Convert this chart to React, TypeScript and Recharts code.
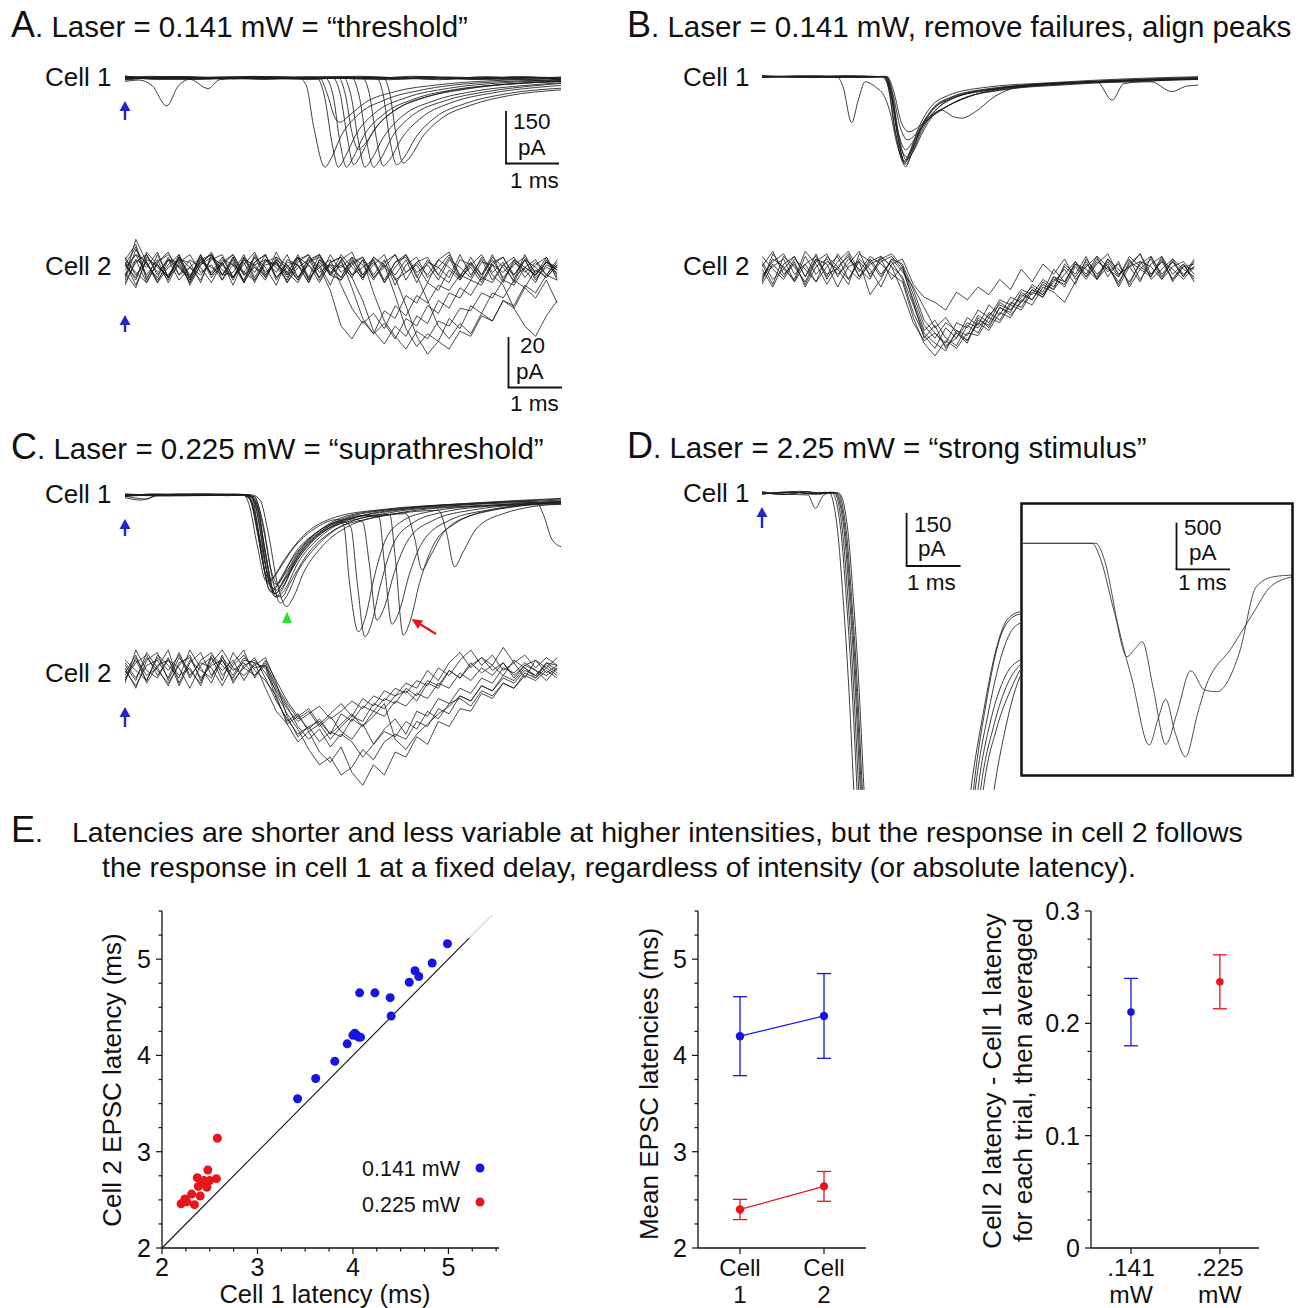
import React from "react";
import { LineChart, Line, XAxis, YAxis, ScatterChart, Scatter, ReferenceLine, ErrorBar } from "recharts";

// Paired-recording figure: raw sweeps (A-D) drawn as hidden-axis Recharts line charts,
// latency summary (E) as three small Recharts plots. Sweep values are in ms / pA.
const FONT = '"Liberation Sans", Arial, Helvetica, sans-serif';
const INK = "#111";
const BLUE = "#1616e0";
const RED = "#e8161a";
const ARROW = "#2424c8";
const TRACE = "#1c1c1c";

// shared time grid (ms) for the noisy cell-2 sweeps
const gridT = [0, 0.2, 0.4, 0.6, 0.8, 1, 1.2, 1.4, 1.6, 1.8, 2, 2.2, 2.4, 2.6, 2.8, 3, 3.2, 3.4, 3.6, 3.8, 4, 4.2, 4.4, 4.6, 4.8, 5, 5.2, 5.4, 5.6, 5.8, 6, 6.2, 6.4, 6.6, 6.8, 7, 7.2, 7.4, 7.6, 7.8, 8];

// A. cell 1 sweeps at 0.141 mW, [ms, pA]
const sweepsA1 = [
  [[0, 3], [0.7, -4], [1.6, 2], [2.6, -3], [3.2, 2], [3.35, -20], [3.5, -150], [3.7, -262], [3.82, -235], [4.0, -170], [4.3, -110], [4.8, -65], [5.5, -35], [6.5, -15], [8.07, -6]],
  [[0, -3], [1, 3], [2, -2], [3, 3], [3.55, 0], [3.7, -60], [3.83, -190], [3.95, -262], [4.08, -230], [4.28, -165], [4.65, -100], [5.2, -58], [6, -30], [7, -14], [8.07, -8]],
  [[0, 4], [1.2, -3], [2.6, 2], [3.6, 0], [3.75, -50], [3.88, -115], [3.98, -130], [4.15, -110], [4.45, -72], [5, -40], [5.8, -20], [6.8, -8], [8.07, -3]],
  [[0, 1], [0.9, -3], [1.8, 3], [2.8, -2], [3.7, 1], [3.85, -50], [3.98, -190], [4.1, -262], [4.22, -235], [4.42, -170], [4.8, -105], [5.35, -62], [6.1, -34], [7.1, -18], [8.07, -10]],
  [[0, -2], [1.1, 2], [2.3, -3], [3.3, 2], [3.85, 0], [3.98, -45], [4.12, -180], [4.23, -255], [4.36, -228], [4.58, -160], [4.95, -100], [5.5, -60], [6.3, -33], [7.3, -16], [8.07, -10]],
  [[0, 2], [1.4, -2], [2.5, 3], [3.6, -1], [3.95, 1], [4.08, -50], [4.2, -160], [4.32, -210], [4.46, -190], [4.7, -135], [5.1, -85], [5.7, -50], [6.6, -25], [8.07, -10]],
  [[0, -1], [0.8, 3], [2, -2], [3.1, 2], [4.05, 0], [4.18, -50], [4.32, -185], [4.44, -262], [4.56, -240], [4.78, -175], [5.15, -110], [5.7, -68], [6.5, -38], [7.4, -22], [8.07, -14]],
  [[0, 3], [1.2, -2], [2.4, 2], [3.5, -3], [4.2, 1], [4.33, -50], [4.47, -185], [4.6, -262], [4.73, -238], [4.95, -172], [5.32, -110], [5.9, -68], [6.7, -40], [7.5, -24], [8.07, -16]],
  [[0, -2], [1.5, 2], [2.7, -2], [3.8, 2], [4.4, 0], [4.52, -45], [4.65, -175], [4.78, -258], [4.9, -240], [5.12, -178], [5.5, -115], [6.05, -72], [6.8, -44], [7.6, -28], [8.07, -22]],
  [[0, 1], [1, -3], [2.2, 2], [3.4, -2], [4.65, 1], [4.78, -50], [4.9, -180], [5.03, -255], [5.16, -235], [5.38, -175], [5.75, -115], [6.3, -75], [7, -48], [8.07, -30]],
  [[0, -1], [1.3, 2], [2.5, -2], [3.7, 3], [4.78, 0], [4.9, -45], [5.02, -170], [5.15, -250], [5.28, -232], [5.5, -175], [5.85, -120], [6.4, -80], [7.1, -52], [8.07, -35]],
  [[0, -10], [0.25, -6], [0.5, -22], [0.77, -82], [0.98, -25], [1.2, -4], [1.54, -31], [1.75, -5], [2.5, 2], [3.5, -2], [4.5, 3], [5.5, -2], [6.5, 2], [7.5, -3], [8.07, 0]],
  [[0, 2], [0.6, -3], [1.3, 3], [2.0, -2], [2.8, 4], [3.6, -2], [4.4, 2], [5.2, -3], [6.0, 3], [6.8, -2], [7.5, 2], [8.07, -4]],
  [[0, -4], [0.8, 2], [1.6, -2], [2.4, 5], [3.2, -1], [4.0, 3], [4.8, -3], [5.6, 2], [6.4, -4], [7.2, 3], [8.07, 1]],
  [[0, 5], [0.5, 1], [1.2, -3], [2.2, 2], [3.0, -3], [3.9, 4], [4.7, -1], [5.5, 4], [6.3, -2], [7.1, 2], [8.07, -2]],
  [[0, -1], [0.9, 4], [1.8, -1], [2.7, 3], [3.5, -3], [4.3, 5], [5.1, 0], [5.9, -3], [6.7, 4], [7.4, -1], [8.07, 3]],
  [[0, 6], [0.4, -2], [1.0, 4], [1.7, -3], [2.5, 3], [3.3, -4], [4.1, 2], [4.9, -5], [5.7, 3], [6.5, -3], [7.3, 4], [8.07, -6]],
  [[0, -6], [0.7, 1], [1.4, -4], [2.1, 4], [2.9, -2], [3.7, 2], [4.5, -4], [5.3, 5], [6.1, -1], [6.9, -5], [7.6, 1], [8.07, -8]],
  [[0, 1], [0.5, 5], [1.1, -1], [1.9, 3], [2.6, -4], [3.4, 4], [4.2, -2], [5.0, 2], [5.8, -5], [6.6, 1], [7.4, -6], [8.07, -10]],
];

// A. cell 2 sweeps (pA on gridT)
const sweepsA2 = [
  [2, 9, -4, 6, -3, 5, -6, 2, 7, -2, 4, -5, 3, 6, -3, 1, 5, -4, 2, -6, 4, 7, -2, 3, -5, 1, 6, -3, 4, -2, 5, -4, 2, 6, -1, 3, -5, 4, 1, -3, 2],
  [-3, 12, 3, -5, 4, 1, -4, 6, -2, 3, -6, 4, 2, -3, 7, -1, -5, 3, 6, -2, -4, 2, 5, -3, 1, 6, -4, 3, -2, 4, 7, -3, 1, -5, 3, 5, -2, 4, -4, 2, 0],
  [1, 6, -2, 4, -5, 3, 6, -1, 2, -4, 5, -2, 3, 6, -3, 2, -4, 5, 1, -8, -22, -27, -20, -25, -16, -19, -10, -13, -5, -8, 0, -4, 3, -2, 4, -3, 2, 5, -1, 3, 1],
  [-4, 8, 2, -3, 5, -2, 4, 1, -5, 3, 6, -2, 1, -4, 5, 2, -3, 4, 6, -1, 3, -3, -12, -24, -29, -22, -26, -18, -21, -12, -15, -7, -10, -3, -5, 2, -2, 4, -3, 1, -1],
  [3, -6, 4, 2, -3, 6, -4, 3, 1, -2, 5, -5, 2, 4, -1, 6, -3, 2, -5, 3, 5, -2, 4, -3, 2, -10, -23, -30, -25, -28, -19, -23, -14, -17, -9, -11, -4, -7, 0, -3, 2],
  [-2, 4, -5, 3, 7, -2, 1, -4, 5, 2, -3, 4, -1, 6, -4, 3, 2, -5, 4, -2, 6, 1, -3, 4, -4, 3, 5, -2, -12, -22, -27, -21, -25, -17, -20, -12, -15, -7, -11, -4, -13],
  [5, -2, 3, -4, 2, 6, -3, 4, -1, 5, -3, 2, 7, -2, 3, -5, 1, 4, -3, 6, -1, 3, -4, 5, 2, -2, 4, -5, 3, 1, -3, 6, -2, 4, -4, 2, 5, -1, 3, -2, 4],
  [-1, -7, 5, 1, -2, 4, 3, -5, 6, 0, -3, 5, -4, 2, 3, -2, 6, -3, 1, 4, -6, -15, -21, -17, -23, -14, -18, -10, -13, -6, -8, -2, 3, -4, 2, 5, -3, 1, 4, -2, 3],
  [4, 10, -3, 2, -4, 5, -2, 3, 6, -4, 2, -1, 5, -3, 4, 1, -4, 3, 5, -2, 2, -3, 4, -9, -20, -26, -31, -24, -27, -20, -22, -15, -16, -9, -11, -4, -6, 1, -2, 3, 0],
  [-5, 3, 6, -2, 4, -4, 1, 5, -3, 2, 6, -1, -4, 3, 5, -2, 2, -5, 4, 1, -3, 5, 2, -4, 3, 6, -1, 2, -5, 4, 1, -3, 5, -2, 6, -4, 3, 0, -5, 4, -3],
  [0, 6, 3, -5, 1, 4, -3, 6, -2, 3, -4, 5, 1, -2, 4, -5, 3, 6, -1, 2, -3, 4, -2, 5, 1, -3, -14, -26, -33, -28, -31, -24, -26, -18, -20, -12, -14, -6, -9, -2, -4],
  [3, -4, 7, 2, -3, 5, 1, -2, 4, 6, -3, 3, -5, 4, 2, -1, 5, -4, 3, -2, 4, -7, -19, -25, -21, -27, -19, -22, -14, -17, -9, -11, -4, -6, 2, -1, 4, -3, 2, 5, -2],
  [-6, 4, 1, 7, -3, 2, -5, 4, 6, -2, 3, -4, 5, 1, -6, 4, 2, -3, 6, -1, -4, 3, 5, -2, 4, -6, 2, 5, -3, 1, 6, -2, -4, 3, 2, -5, 4, 1, -2, 5, -4],
  [2, -3, 6, -1, 4, 3, -5, 2, 5, -2, -1, 6, -3, 4, 1, -4, 5, 2, -3, 3, 5, -2, 1, 4, -5, 3, 6, -1, 2, -4, 4, 1, -3, 5, -2, -6, -15, -22, -26, -18, -12],
  [4, -1, -5, 3, 6, 1, -3, 5, -2, 4, 2, -5, 6, -1, 3, -3, 4, 6, -4, 2, 1, 5, -3, 2, 6, -4, -1, 3, 5, -2, -5, 4, 2, -3, 5, 1, -4, 6, -2, 3, 1],
];

// B. cell 1 sweeps, failures removed and peaks aligned, [ms, pA]
const sweepsB1 = [
  [[0, 2], [0.8, -2], [1.6, 3], [2.2, 0], [2.32, -20], [2.45, -150], [2.58, -240], [2.66, -265], [2.76, -230], [2.92, -160], [3.15, -95], [3.5, -60], [4.2, -35], [5.4, -20], [6.6, -10], [8.07, -2]],
  [[0, -2], [1, 2], [1.9, -2], [2.25, 1], [2.35, -40], [2.48, -170], [2.65, -250], [2.75, -215], [2.9, -150], [3.12, -90], [3.45, -55], [4.1, -32], [5.3, -18], [6.8, -6], [8.07, 0]],
  [[0, 1], [1.2, -2], [2.27, 0], [2.38, -50], [2.52, -180], [2.68, -236], [2.8, -205], [2.98, -145], [3.2, -100], [3.55, -62], [4.2, -38], [5.5, -22], [7, -10], [8.07, -6]],
  [[0, -1], [0.7, 2], [1.5, -2], [2.28, 1], [2.4, -60], [2.54, -175], [2.66, -215], [2.8, -190], [3.0, -140], [3.3, -100], [3.7, -65], [4.4, -40], [5.6, -24], [7.2, -12], [8.07, -8]],
  [[0, 2], [1.3, -1], [2.3, 0], [2.42, -50], [2.56, -150], [2.7, -186], [2.84, -170], [3.05, -130], [3.35, -95], [3.8, -60], [4.6, -35], [5.8, -20], [8.07, -5]],
  [[0, -2], [1.1, 2], [2.32, 0], [2.44, -45], [2.58, -135], [2.72, -162], [2.88, -150], [3.1, -118], [3.45, -85], [3.9, -55], [4.7, -30], [6, -15], [8.07, -4]],
  [[0, 0], [0.9, 2], [1.4, -2], [1.5, -30], [1.66, -135], [1.78, -70], [1.91, -15], [2.1, -30], [2.28, -63], [2.38, -110], [2.5, -200], [2.64, -255], [2.75, -225], [2.92, -160], [3.15, -100], [3.5, -65], [4.2, -40], [5.4, -22], [8.07, -6]],
  [[0, 1], [1.2, -2], [2.3, 0], [2.4, -40], [2.54, -180], [2.67, -245], [2.8, -220], [3.0, -155], [3.31, -98], [3.55, -118], [3.7, -122], [3.95, -103], [4.3, -59], [4.8, -29], [5.8, -18], [8.07, -8]],
  [[0, -1], [1.5, 1], [2.26, 0], [2.36, -30], [2.5, -160], [2.63, -248], [2.73, -225], [2.9, -158], [3.15, -98], [3.5, -62], [4.3, -35], [5.4, -20], [6.2, -15], [6.48, -69], [6.7, -20], [7.3, -12], [8.07, -5]],
  [[0, 2], [1, -1], [2.29, 0], [2.4, -50], [2.53, -190], [2.66, -258], [2.77, -228], [2.95, -162], [3.2, -102], [3.6, -60], [4.4, -34], [5.6, -18], [7.2, -15], [7.59, -44], [7.85, -28], [8.07, -25]],
];

// B. cell 2 sweeps (pA on gridT)
const sweepsB2 = [
  [3, -5, 6, 2, -4, 5, -2, 7, 1, -3, 4, 6, 2, -8, -20, -27, -24, -28, -20, -22, -15, -18, -11, -13, -7, -9, -3, -6, 2, -2, 4, -3, 5, 1, -4, 3, 6, -2, 4, -1, 2],
  [-4, 7, 1, -3, 8, 3, -5, 2, 6, -2, 5, -1, 4, -3, -16, -25, -30, -22, -26, -18, -21, -13, -17, -10, -12, -5, -8, 1, -4, 3, -2, 5, 0, 3, -5, 4, 2, -3, 5, 1, -2],
  [6, 1, -3, 4, -6, 2, 5, -1, 3, 8, -2, 4, 6, 1, -11, -23, -19, -26, -29, -21, -24, -16, -19, -12, -14, -7, -10, -3, -5, 4, -1, 6, 2, -4, 3, 7, -1, 4, -3, 2, 3],
  [-2, 4, 7, -1, 3, -4, 6, 2, -3, 5, 1, -6, 3, 5, -5, -10, -12, -15, -8, -11, -6, -9, -3, -7, 1, -4, 3, -1, 5, -3, 2, 6, -2, 4, -6, 1, 5, -3, 2, 4, -1],
  [1, -6, 3, 6, -2, 7, -3, 4, 8, 0, 6, 3, -1, -4, -18, -28, -33, -27, -30, -24, -25, -18, -20, -13, -15, -8, -10, -2, -6, 2, -3, 4, 1, -2, 5, -3, 3, 6, -4, 2, 1],
  [-5, 3, -2, 5, 1, -4, 2, 6, -3, 4, -1, 5, 7, 2, -9, -21, -26, -20, -23, -25, -17, -20, -12, -15, -9, -11, -4, -7, 3, -1, 6, -3, 2, -5, 4, 1, -2, 5, -3, 3, -4],
  [2, 8, -1, 3, -5, 4, 7, -2, 5, 1, -3, 6, 2, -2, -13, -24, -28, -31, -23, -27, -19, -21, -14, -16, -8, -11, -5, -7, -1, 4, -2, 3, 7, -1, 2, -4, 6, -1, 4, -2, 5],
  [-1, 2, 5, -4, 3, 6, -1, 1, -5, 7, 4, -2, 5, 3, -7, -19, -24, -29, -26, -20, -22, -17, -13, -15, -10, -6, -9, -2, -4, 3, 1, -3, 4, -2, 6, 2, -1, 4, 1, -3, 2],
  [4, -3, 1, 6, -2, 5, 3, -6, 2, 4, -9, -3, 5, 0, -6, -14, -22, -18, -24, -27, -20, -23, -16, -18, -11, -13, -6, -8, -12, -4, 3, -2, 5, -1, 2, 7, -3, 1, 5, -2, 4],
  [-3, 5, 2, -4, 6, -1, 4, 1, 7, -2, 3, 5, -3, 2, -12, -26, -21, -30, -24, -28, -18, -22, -14, -17, -12, -7, -9, -4, 1, -5, 5, -1, 3, -6, 2, 4, -2, 6, -1, 3, -3],
];

// C. cell 1 sweeps at 0.225 mW, [ms, pA]
const sweepsC1 = [
  [[0, -5], [0.5, 3], [1.2, -2], [1.8, 2], [2.2, 0], [2.3, -30], [2.45, -150], [2.62, -255], [2.75, -240], [2.95, -190], [3.3, -120], [3.9, -65], [4.8, -42], [6.0, -28], [7.0, -20], [8.07, -12]],
  [[0, 2], [0.7, -3], [1.4, 2], [2.1, 1], [2.27, -5], [2.4, -60], [2.55, -200], [2.7, -285], [2.85, -260], [3.05, -200], [3.4, -130], [3.95, -75], [4.8, -45], [6.1, -30], [8.07, -15]],
  [[0, -3], [0.4, -12], [0.6, 0], [1.5, 3], [2.15, 2], [2.33, -5], [2.47, -70], [2.62, -220], [2.78, -300], [2.92, -275], [3.1, -215], [3.45, -140], [4.0, -80], [4.9, -48], [6.0, -32], [8.07, -20]],
  [[0, 0], [1, 2], [1.9, -2], [2.25, 1], [2.4, -8], [2.55, -80], [2.72, -240], [2.88, -318], [3.0, -295], [3.2, -225], [3.55, -150], [4.05, -88], [4.9, -52], [6.1, -34], [8.07, -25]],
  [[0, 3], [1.1, -2], [2.0, 2], [2.35, 0], [2.5, -15], [2.65, -110], [2.82, -260], [2.99, -328], [3.12, -300], [3.3, -230], [3.6, -160], [4.1, -95], [5.0, -55], [6.2, -35], [8.07, -28]],
  [[0, -8], [0.3, -15], [0.6, -2], [1.2, 1], [2.2, 0], [2.35, -20], [2.5, -130], [2.66, -240], [2.8, -262], [2.95, -235], [3.2, -170], [3.6, -105], [4.1, -62], [5.2, -38], [6.4, -24], [8.07, -10]],
  [[0, 1], [1, -2], [2.1, 2], [2.3, -10], [2.45, -110], [2.6, -230], [2.7, -250], [2.85, -220], [3.1, -160], [3.5, -100], [3.95, -72], [4.05, -90], [4.15, -250], [4.32, -402], [4.45, -360], [4.6, -250], [4.8, -140], [5.1, -80], [5.6, -50], [6.8, -30], [8.07, -18]],
  [[0, -2], [1.3, 2], [2.2, -1], [2.36, -15], [2.5, -140], [2.66, -275], [2.78, -290], [2.95, -245], [3.2, -175], [3.6, -110], [4.05, -78], [4.18, -95], [4.3, -260], [4.44, -417], [4.56, -380], [4.72, -270], [4.95, -150], [5.3, -85], [5.9, -50], [7, -30], [8.07, -20]],
  [[0, 0], [1, 3], [2.2, 1], [2.32, -10], [2.47, -120], [2.63, -250], [2.75, -275], [2.9, -240], [3.15, -170], [3.6, -105], [4.2, -70], [4.4, -80], [4.52, -200], [4.66, -368], [4.8, -330], [4.98, -230], [5.25, -130], [5.7, -75], [6.4, -45], [8.07, -22]],
  [[0, 2], [0.8, -2], [2.0, 2], [2.4, -5], [2.55, -90], [2.72, -230], [2.86, -268], [3.0, -240], [3.3, -165], [3.8, -95], [4.4, -60], [4.7, -65], [4.8, -200], [4.94, -380], [5.08, -340], [5.25, -240], [5.5, -140], [6.0, -75], [6.8, -42], [8.07, -22]],
  [[0, -3], [1.2, 1], [2.2, 0], [2.38, -12], [2.52, -125], [2.68, -262], [2.8, -280], [2.95, -250], [3.2, -180], [3.7, -100], [4.4, -62], [4.9, -58], [5.0, -180], [5.15, -412], [5.28, -370], [5.45, -260], [5.7, -150], [6.1, -85], [6.8, -45], [8.07, -22]],
  [[0, 1], [1, -2], [2.25, 1], [2.42, -20], [2.58, -150], [2.75, -285], [2.9, -300], [3.05, -260], [3.35, -180], [3.8, -110], [4.5, -70], [5.2, -55], [5.35, -120], [5.5, -220], [5.65, -180], [5.9, -110], [6.4, -60], [7.2, -35], [8.07, -20]],
  [[0, -2], [1, 2], [2.28, 0], [2.45, -40], [2.6, -180], [2.77, -290], [2.92, -270], [3.15, -195], [3.55, -120], [4.2, -75], [5.0, -55], [5.8, -45], [5.95, -110], [6.1, -211], [6.25, -170], [6.5, -100], [7.0, -55], [8.07, -25]],
  [[0, 2], [1.3, -2], [2.3, 0], [2.45, -30], [2.6, -170], [2.8, -300], [2.95, -280], [3.2, -200], [3.6, -125], [4.2, -70], [5.2, -40], [6.5, -25], [7.6, -18], [7.75, -60], [7.9, -130], [8.07, -152]],
];

// C. cell 2 sweeps (pA on gridT)
const sweepsC2 = [
  [2, -6, 5, 8, -3, 6, 1, -4, 7, 3, -2, 5, 4, -6, -15, -20, -17, -22, -18, -24, -16, -19, -13, -15, -10, -12, -6, -9, -3, -5, 1, -2, 4, 0, 3, -1, 5, 2, -2, 4, 1],
  [-4, 9, 1, -2, 6, -5, 4, 8, -1, 5, -3, 2, 6, -2, -11, -18, -24, -21, -27, -23, -25, -18, -21, -15, -17, -11, -13, -8, -10, -4, -6, 0, -3, 2, -1, 4, -2, 3, 1, -1, 2],
  [5, 1, -3, 7, 3, -2, 9, 2, -4, 6, 1, 4, -1, 3, -8, -16, -22, -30, -36, -33, -40, -37, -30, -34, -27, -24, -26, -19, -21, -14, -16, -9, -11, -5, -7, -2, -4, 1, -1, 3, 0],
  [-2, 4, 7, -1, 5, 2, -6, 3, 6, -3, 8, 2, -1, 4, -5, -12, -18, -15, -21, -17, -23, -26, -20, -28, -22, -18, -24, -15, -17, -10, -12, -6, -8, -2, -4, 2, 0, 4, 1, -3, 2],
  [1, -5, 3, 5, -2, 8, -1, 4, 2, -5, 3, 7, 1, -3, -9, -20, -27, -23, -31, -35, -29, -39, -44, -36, -40, -31, -33, -25, -28, -19, -21, -14, -15, -8, -10, -4, -6, 0, -2, 2, -1],
  [-3, 6, -1, 2, 9, -4, 5, 1, -2, 7, -4, 3, 5, 0, -7, -14, -19, -16, -13, -18, -15, -11, -14, -9, -11, -6, -8, -3, -5, 2, -1, 5, 9, 3, 7, 1, 4, -2, 5, 2, 6],
  [4, -2, 6, 1, -4, 3, 7, -3, 4, 9, 2, -1, 3, 6, -4, -17, -25, -21, -19, -24, -20, -16, -21, -17, -12, -26, -30, -24, -20, -16, -13, -9, -11, -5, -7, -1, -3, 2, -1, 4, 3],
  [0, 7, -4, 3, 5, -1, 2, -5, 6, 1, 5, -3, 4, 2, -10, -19, -16, -23, -20, -26, -21, -17, -19, -12, -14, -9, -7, -11, -4, -6, 1, -2, 3, 6, 1, 4, -1, 3, 5, 0, 3],
  [3, -3, 8, 2, -5, 4, 6, -2, 3, 5, -1, 6, 2, 3, -6, -13, -21, -26, -22, -29, -24, -27, -33, -28, -23, -25, -19, -22, -15, -18, -12, -10, -13, -7, -9, -4, -6, -1, -3, 1, -2],
  [-1, 5, -3, 6, 1, 7, -2, 5, 8, -1, 4, 9, -2, 5, -3, -11, -17, -14, -20, -16, -12, -17, -10, -13, -7, -9, -4, -6, 1, -3, 4, 8, 2, 6, 3, 10, 4, 7, 2, 6, 3],
];

// D. cell 1 sweeps at 2.25 mW, [ms, pA] (clipped at the panel bottom)
const sweepsD1 = [
  [[0, 3], [0.4, -4], [0.8, 5], [1.1, -2], [1.24, 2], [1.4, -109], [1.5, -304], [1.6, -549], [1.7, -871], [1.85, -1400], [2.7, -2100], [3.6, -1300], [3.87, -872], [4.1, -646], [4.35, -451], [4.54, -372], [4.78, -348]],
  [[0, -3], [0.5, 4], [0.9, -2], [1.15, 3], [1.3, 1], [1.46, -109], [1.56, -304], [1.66, -549], [1.76, -871], [1.9, -1400], [2.8, -2100], [3.7, -1300], [3.95, -872], [4.2, -640], [4.45, -470], [4.6, -410], [4.78, -382]],
  [[0, 5], [0.3, 0], [0.7, 6], [1.0, 1], [1.33, 3], [1.49, -109], [1.59, -304], [1.69, -549], [1.79, -871], [1.95, -1400], [2.8, -2100], [3.75, -1300], [4.0, -872], [4.25, -660], [4.5, -540], [4.78, -490]],
  [[0, -1], [0.6, 3], [1.0, -3], [1.3, 2], [1.36, 0], [1.52, -109], [1.62, -304], [1.72, -549], [1.82, -871], [2.0, -1400], [2.9, -2100], [3.8, -1300], [4.05, -872], [4.3, -680], [4.55, -560], [4.78, -504]],
  [[0, 2], [0.45, -3], [0.85, 4], [1.2, -1], [1.4, 1], [1.56, -109], [1.66, -304], [1.76, -549], [1.86, -871], [2.05, -1400], [2.9, -2100], [3.85, -1300], [4.1, -872], [4.35, -690], [4.6, -580], [4.78, -519]],
  [[0, -2], [0.55, 4], [0.95, -1], [1.25, 3], [1.43, 0], [1.59, -109], [1.69, -304], [1.79, -549], [1.89, -871], [2.1, -1400], [3.0, -2100], [4.0, -1300], [4.3, -872], [4.5, -700], [4.65, -600], [4.78, -539]],
  [[0, 1], [0.5, -3], [0.85, -5], [0.99, -44], [1.12, -10], [1.26, 2], [1.38, 0], [1.54, -109], [1.64, -304], [1.74, -549], [1.84, -871], [2.0, -1400], [2.9, -2100], [3.7, -1300], [3.92, -872], [4.15, -620], [4.4, -430], [4.6, -370], [4.78, -355]],
];

// D inset: two full sweeps at 500 pA scale, [ms, pA]
const sweepsInset = [
  [[0, 0], [1.3, 0], [1.43, -115], [1.72, -686], [1.95, -1111], [2.11, -1029], [2.24, -964], [2.44, -1405], [2.68, -1970], [2.89, -1666], [3.15, -1249], [3.41, -1437], [3.64, -1454], [4.06, -1078], [4.38, -425], [4.71, -327], [5.07, -311]],
  [[0, 0], [1.37, 0], [1.53, -164], [1.79, -817], [2.05, -1340], [2.37, -1977], [2.53, -1732], [2.68, -1529], [2.86, -1862], [3.05, -2091], [3.28, -1666], [3.41, -1437], [3.93, -1013], [4.32, -686], [4.65, -425], [5.07, -327]],
];

// E. per-trial latencies (ms)
const blueCell1 = [4.99, 4.83, 4.65, 4.69, 4.59, 4.07, 4.23, 4.39, 4.40, 4.02, 4.00, 4.04, 4.08, 4.06, 3.94, 3.81, 3.61, 3.42];
const blueCell2 = [5.16, 4.96, 4.88, 4.82, 4.76, 4.65, 4.65, 4.60, 4.41, 4.23, 4.21, 4.21, 4.19, 4.19, 4.12, 3.94, 3.76, 3.55];
const redCell1 = [2.58, 2.48, 2.57, 2.37, 2.44, 2.50, 2.38, 2.47, 2.31, 2.40, 2.24, 2.26, 2.20, 2.34, 2.43];
const redCell2 = [3.14, 2.81, 2.72, 2.73, 2.70, 2.70, 2.64, 2.63, 2.56, 2.54, 2.51, 2.48, 2.46, 2.45, 2.69];
const latTicks = [2, 2.25, 2.5, 2.75, 3, 3.25, 3.5, 3.75, 4, 4.25, 4.5, 4.75, 5, 5.25, 5.5];

// E. means +/- SD per cell
const cellPos = [1, 2];
const cellLabels = [["Cell", "1"], ["Cell", "2"]];
const blueMean = [4.20, 4.41];
const blueSd = [0.41, 0.44];
const redMean = [2.40, 2.64];
const redSd = [0.105, 0.155];

// E. cell2 - cell1 delay per intensity
const powerPos = [1, 2];
const powerLabels = [[".141", "mW"], [".225", "mW"]];
const delayMean = [0.210, 0.237];
const delaySd = [0.030, 0.024];
const delayTicks = [0, 0.025, 0.05, 0.075, 0.1, 0.125, 0.15, 0.175, 0.2, 0.225, 0.25, 0.275, 0.3];

const fromPairs = (pairs) => pairs.map(([t, v]) => ({ t, v }));
const onGrid = (vals) => gridT.map((t, i) => ({ t, v: vals[i] }));

function Sweeps({ left, top, width, height, t, v, sweeps, stroke = TRACE, sw = 0.85, curve = "monotone" }) {
  return (
    <div style={{ position: "absolute", left, top }}>
      <LineChart width={width} height={height} margin={{ top: 0, right: 0, bottom: 0, left: 0 }}>
        <XAxis type="number" dataKey="t" domain={t} hide allowDataOverflow />
        <YAxis type="number" domain={v} hide allowDataOverflow />
        {sweeps.map((d, i) => (
          <Line key={i} data={d} dataKey="v" type={curve} stroke={stroke} strokeWidth={sw} dot={false} activeDot={false} isAnimationActive={false} />
        ))}
      </LineChart>
    </div>
  );
}

const axisLine = { stroke: "#111", strokeWidth: 1.3 };

function AxisTick({ x, y, payload, side, major, lines, gap = 28, lead = 28, fs = 25 }) {
  const v = payload.value;
  const big = major(v);
  if (side === "bottom") {
    const txt = big ? lines(v) : [];
    return (
      <g>
        <line x1={x} y1={y} x2={x} y2={y + (big ? 6 : 3.5)} stroke="#111" strokeWidth={1.2} />
        {txt.map((s, i) => (
          <text key={i} x={x} y={y + gap + i * lead} textAnchor="middle" fontSize={fs} fill={INK}>{s}</text>
        ))}
      </g>
    );
  }
  return (
    <g>
      <line x1={x - (big ? 6 : 3.5)} y1={y} x2={x} y2={y} stroke="#111" strokeWidth={1.2} />
      {big && <text x={x - 11} y={y + 9} textAnchor="end" fontSize={fs} fill={INK}>{lines(v)[0]}</text>}
    </g>
  );
}

const isInt = (v) => Math.abs(v - Math.round(v)) < 1e-6;
const isTenth = (v) => Math.abs(v * 10 - Math.round(v * 10)) < 1e-6;

// the three E plots share one frame: container top 890, plot area 911..1248
const eMargin = { top: 21, bottom: 30 };

function LatencyScatter() {
  const blue = blueCell1.map((x, i) => ({ x, y: blueCell2[i] }));
  const red = redCell1.map((x, i) => ({ x, y: redCell2[i] }));
  return (
    <div style={{ position: "absolute", left: 100, top: 890 }}>
      <ScatterChart width={420} height={418} margin={{ ...eMargin, right: 21, left: 22 }}>
        <XAxis type="number" dataKey="x" domain={[2, 5.53]} ticks={latTicks} interval={0} height={30} tickSize={0} tickMargin={0} tickLine={false} axisLine={axisLine} allowDataOverflow
          tick={(p) => <AxisTick {...p} side="bottom" major={isInt} lines={(v) => [String(v)]} />} />
        <YAxis type="number" dataKey="y" domain={[2, 5.5]} ticks={latTicks} interval={0} width={40} tickSize={0} tickMargin={0} tickLine={false} axisLine={axisLine} allowDataOverflow
          tick={(p) => <AxisTick {...p} side="left" major={isInt} lines={(v) => [String(v)]} />} />
        <ReferenceLine segment={[{ x: 2, y: 2 }, { x: 5.22, y: 5.22 }]} stroke="#111" strokeWidth={1.1} />
        <ReferenceLine segment={[{ x: 5.22, y: 5.22 }, { x: 5.46, y: 5.46 }]} stroke="#d0d0d0" strokeWidth={1.1} />
        <Scatter data={blue} isAnimationActive={false} shape={(p) => <circle cx={p.cx} cy={p.cy} r={4.5} fill={BLUE} />} />
        <Scatter data={red} isAnimationActive={false} shape={(p) => <circle cx={p.cx} cy={p.cy} r={4.5} fill={RED} />} />
      </ScatterChart>
    </div>
  );
}

function MeanLatency() {
  const rows = cellPos.map((x, i) => ({ x, blue: blueMean[i], blueSd: blueSd[i], red: redMean[i], redSd: redSd[i] }));
  return (
    <div style={{ position: "absolute", left: 600, top: 890 }}>
      <LineChart width={280} height={418} data={rows} margin={{ ...eMargin, right: 14, left: 58 }}>
        <XAxis type="number" dataKey="x" domain={[0.5, 2.5]} ticks={cellPos} interval={0} height={30} tickSize={0} tickMargin={0} tickLine={false} axisLine={axisLine}
          tick={(p) => <AxisTick {...p} side="bottom" major={() => true} lines={(v) => cellLabels[cellPos.indexOf(v)]} gap={27.5} lead={27} fs={24} />} />
        <YAxis type="number" domain={[2, 5.5]} ticks={latTicks} interval={0} width={40} tickSize={0} tickMargin={0} tickLine={false} axisLine={axisLine}
          tick={(p) => <AxisTick {...p} side="left" major={isInt} lines={(v) => [String(v)]} />} />
        <Line dataKey="blue" stroke={BLUE} strokeWidth={1.3} dot={{ r: 4.2, fill: BLUE, stroke: BLUE, strokeWidth: 0 }} activeDot={false} isAnimationActive={false}>
          <ErrorBar dataKey="blueSd" direction="y" width={7} stroke={BLUE} strokeWidth={1.3} />
        </Line>
        <Line dataKey="red" stroke={RED} strokeWidth={1.3} dot={{ r: 4.2, fill: RED, stroke: RED, strokeWidth: 0 }} activeDot={false} isAnimationActive={false}>
          <ErrorBar dataKey="redSd" direction="y" width={7} stroke={RED} strokeWidth={1.3} />
        </Line>
      </LineChart>
    </div>
  );
}

function DelayPlot() {
  const blue = [{ x: powerPos[0], y: delayMean[0], sd: delaySd[0] }];
  const red = [{ x: powerPos[1], y: delayMean[1], sd: delaySd[1] }];
  return (
    <div style={{ position: "absolute", left: 960, top: 890 }}>
      <ScatterChart width={320} height={418} margin={{ ...eMargin, right: 21, left: 91 }}>
        <XAxis type="number" dataKey="x" domain={[0.55, 2.44]} ticks={powerPos} interval={0} height={30} tickSize={0} tickMargin={0} tickLine={false} axisLine={axisLine}
          tick={(p) => <AxisTick {...p} side="bottom" major={() => true} lines={(v) => powerLabels[powerPos.indexOf(v)]} gap={27.5} lead={27} fs={24.5} />} />
        <YAxis type="number" dataKey="y" domain={[0, 0.3]} ticks={delayTicks} interval={0} width={40} tickSize={0} tickMargin={0} tickLine={false} axisLine={axisLine}
          tick={(p) => <AxisTick {...p} side="left" major={isTenth} lines={(v) => [v === 0 ? "0" : v.toFixed(1)]} />} />
        <Scatter data={blue} isAnimationActive={false} shape={(p) => <circle cx={p.cx} cy={p.cy} r={3.8} fill={BLUE} />}>
          <ErrorBar dataKey="sd" direction="y" width={7} stroke={BLUE} strokeWidth={1.3} />
        </Scatter>
        <Scatter data={red} isAnimationActive={false} shape={(p) => <circle cx={p.cx} cy={p.cy} r={3.8} fill={RED} />}>
          <ErrorBar dataKey="sd" direction="y" width={7} stroke={RED} strokeWidth={1.3} />
        </Scatter>
      </ScatterChart>
    </div>
  );
}

function BlueArrow({ x, y1, y2 }) {
  return (
    <g>
      <line x1={x} y1={y1 + 8} x2={x} y2={y2} stroke={ARROW} strokeWidth={2.4} />
      <polygon points={`${x - 5.5},${y1 + 10} ${x},${y1} ${x + 5.5},${y1 + 10}`} fill={ARROW} />
    </g>
  );
}

function ScaleBar({ x, y1, y2, x2, labels }) {
  return (
    <g>
      <line x1={x} y1={y1} x2={x} y2={y2} stroke="#111" strokeWidth={1.8} />
      <line x1={x - 0.9} y1={y2} x2={x2} y2={y2} stroke="#111" strokeWidth={1.8} />
      {labels.map(([s, lx, ly], i) => (
        <text key={i} x={lx} y={ly} fontSize={22.5} fill={INK}>{s}</text>
      ))}
    </g>
  );
}

function Title({ x, y, letter, text }) {
  return (
    <text x={x} y={y} fill={INK}>
      <tspan fontSize={36}>{letter}</tspan>
      <tspan fontSize={29.5}>{text}</tspan>
    </text>
  );
}

function Overlay() {
  return (
    <svg width={1309} height={1308} style={{ position: "absolute", left: 0, top: 0, pointerEvents: "none", fontFamily: FONT }}>
      <Title x={11} y={37} letter="A" text=". Laser = 0.141 mW = “threshold”" />
      <Title x={627} y={37} letter="B" text=". Laser = 0.141 mW, remove failures, align peaks" />
      <Title x={11} y={459} letter="C" text=". Laser = 0.225 mW = “suprathreshold”" />
      <Title x={627} y={458} letter="D" text=". Laser = 2.25 mW = “strong stimulus”" />

      <g fontSize={26} fill={INK}>
        <text x={45} y={86}>Cell 1</text>
        <text x={45} y={275}>Cell 2</text>
        <text x={683} y={86}>Cell 1</text>
        <text x={683} y={275}>Cell 2</text>
        <text x={45} y={503}>Cell 1</text>
        <text x={45} y={682}>Cell 2</text>
        <text x={683} y={502}>Cell 1</text>
      </g>

      <BlueArrow x={125} y1={101} y2={120} />
      <BlueArrow x={125} y1={315} y2={332} />
      <BlueArrow x={125} y1={519} y2={536} />
      <BlueArrow x={125} y1={707} y2={727} />
      <BlueArrow x={762} y1={507} y2={528} />

      <ScaleBar x={506} y1={111} y2={163.5} x2={559} labels={[["150", 513, 128.5], ["pA", 518, 155], ["1 ms", 510, 188]]} />
      <ScaleBar x={508.5} y1={337} y2={387.5} x2={562} labels={[["20", 520, 353], ["pA", 516, 379], ["1 ms", 510, 411]]} />
      <ScaleBar x={906.6} y1={513} y2={566} x2={960.6} labels={[["150", 914, 531.7], ["pA", 918, 556], ["1 ms", 907, 590]]} />
      <ScaleBar x={1176.5} y1={522.7} y2={569.3} x2={1230} labels={[["500", 1184, 535], ["pA", 1189, 560], ["1 ms", 1178, 590]]} />

      <rect x={1021.5} y={503.5} width={271} height={272} fill="none" stroke="#111" strokeWidth={2.5} />

      <polygon points="282,623 292,623 287,611.5" fill="#2ee02e" />
      <line x1={436} y1={634} x2={419} y2={623.5} stroke={RED} strokeWidth={2.2} />
      <polygon points="411.5,619 423,620.5 418,629" fill={RED} />

      <text x={11} y={842} fill={INK}>
        <tspan fontSize={36}>E</tspan>
        <tspan fontSize={28.5}>.</tspan>
      </text>
      <text x={72} y={842} fontSize={28.5} fill={INK}>Latencies are shorter and less variable at higher intensities, but the response in cell 2 follows</text>
      <text x={102} y={877} fontSize={28.5} fill={INK}>the response in cell 1 at a fixed delay, regardless of intensity (or absolute latency).</text>

      <text transform="translate(112,1080) rotate(-90)" textAnchor="middle" dominantBaseline="central" fontSize={26} fill={INK}>Cell 2 EPSC latency (ms)</text>
      <text x={325} y={1303} textAnchor="middle" fontSize={25.5} fill={INK}>Cell 1 latency (ms)</text>
      <text x={460} y={1176} textAnchor="end" fontSize={21.5} fill={INK}>0.141 mW</text>
      <circle cx={480} cy={1168} r={4.5} fill={BLUE} />
      <text x={460} y={1211.5} textAnchor="end" fontSize={21.5} fill={INK}>0.225 mW</text>
      <circle cx={480} cy={1202} r={4.5} fill={RED} />

      <text transform="translate(649,1084) rotate(-90)" textAnchor="middle" dominantBaseline="central" fontSize={26} fill={INK}>Mean EPSC latencies (ms)</text>
      <text transform="translate(992,1081) rotate(-90)" textAnchor="middle" dominantBaseline="central" fontSize={26} fill={INK}>Cell 2 latency - Cell 1 latency</text>
      <text transform="translate(1023,1080) rotate(-90)" textAnchor="middle" dominantBaseline="central" fontSize={26} fill={INK}>for each trial, then averaged</text>
    </svg>
  );
}

export default function App() {
  const tA = [0, 8.07];
  return (
    <div style={{ position: "absolute", left: 0, top: 0, width: 1309, height: 1308, background: "#fff", fontFamily: FONT, overflow: "hidden" }}>
      <Sweeps left={125} top={58} width={436} height={122} t={tA} v={[-300, 58.8]} sweeps={sweepsA1.map(fromPairs)} />
      <Sweeps left={125} top={225} width={436} height={145} t={tA} v={[-39.2, 17.6]} sweeps={sweepsA2.map(onGrid)} curve="linear" sw={0.8} />
      <Sweeps left={762} top={58} width={436} height={122} t={tA} v={[-304, 55]} sweeps={sweepsB1.map(fromPairs)} />
      <Sweeps left={762} top={225} width={436} height={145} t={tA} v={[-38.5, 18.3]} sweeps={sweepsB2.map(onGrid)} curve="linear" sw={0.8} />
      <Sweeps left={125} top={475} width={436} height={185} t={tA} v={[-485.3, 58.8]} sweeps={sweepsC1.map(fromPairs)} />
      <Sweeps left={125} top={625} width={436} height={175} t={tA} v={[-49.8, 18.8]} sweeps={sweepsC2.map(onGrid)} curve="linear" sw={0.8} />
      <Sweeps left={762} top={475} width={258} height={315} t={[0, 4.78]} v={[-872.6, 53.8]} sweeps={sweepsD1.map(fromPairs)} />
      <Sweeps left={1023} top={503} width={270} height={273} t={[0, 5.07]} v={[-2280, 395]} sweeps={sweepsInset.map(fromPairs)} stroke="#3a3a3a" sw={0.9} />
      <LatencyScatter />
      <MeanLatency />
      <DelayPlot />
      <Overlay />
    </div>
  );
}
